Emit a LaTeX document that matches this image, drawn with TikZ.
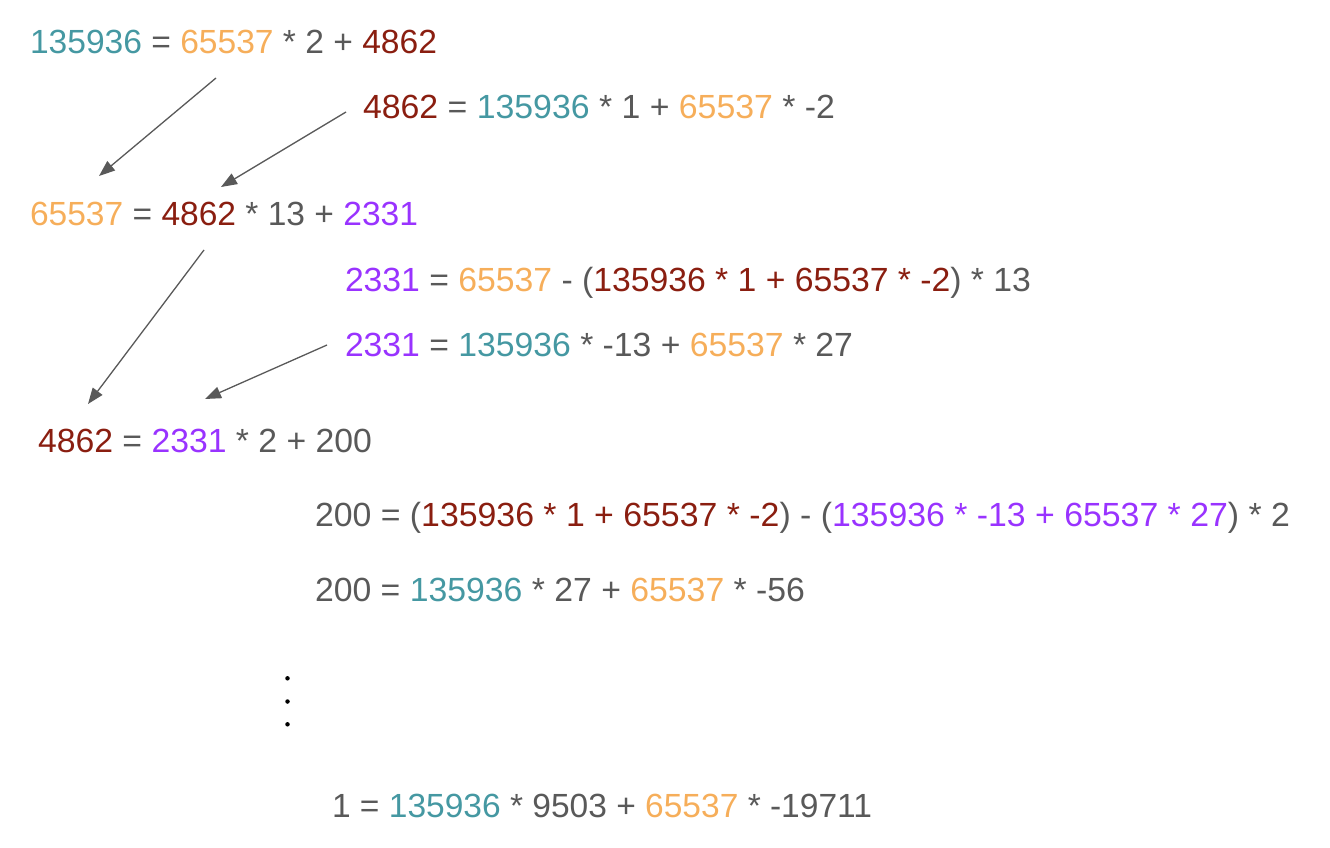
\documentclass[tikz,border=0pt]{standalone}
\usepackage{fontspec}
\setmainfont{Liberation Sans}
\usetikzlibrary{arrows.meta}
\definecolor{tl}{HTML}{4598A2}
\definecolor{og}{HTML}{F6AE5A}
\definecolor{dr}{HTML}{8A1E10}
\definecolor{pp}{HTML}{9933FF}
\definecolor{gr}{HTML}{595959}
\newcommand{\cT}[1]{\textcolor{tl}{#1}}
\newcommand{\cO}[1]{\textcolor{og}{#1}}
\newcommand{\cR}[1]{\textcolor{dr}{#1}}
\newcommand{\cP}[1]{\textcolor{pp}{#1}}
\newcommand{\fitw}[2]{\resizebox{#1pt}{\height}{#2}}
\tikzset{
  eq/.style={anchor=base west, inner sep=0pt, outer sep=0pt, text=gr, font=\fontsize{33.5}{40}\selectfont},
  arr/.style={draw=gr, line width=1.3pt, -{Triangle[length=16pt,width=12pt]}},
  dot/.style={circle, fill=black, inner sep=0pt, minimum size=4.5pt}
}
\begin{document}
\begin{tikzpicture}[x=1pt,y=-1pt]
\useasboundingbox (0,0) rectangle (1330,848);
\node[eq] (l1) at (30,54) {\fitw{407}{\cT{135936} = \cO{65537} * 2 + \cR{4862}}};
\node[eq] (l2) at (363,119) {\fitw{472}{\cR{4862} = \cT{135936} * 1 + \cO{65537} * -2}};
\node[eq] (l3) at (30,225) {\fitw{388}{\cO{65537} = \cR{4862} * 13 + \cP{2331}}};
\node[eq] (l4) at (345,291) {\fitw{686}{\cP{2331} = \cO{65537} - (\cR{135936 * 1 + 65537 * -2}) * 13}};
\node[eq] (l5) at (345,356) {\fitw{508}{\cP{2331} = \cT{135936} * -13 + \cO{65537} * 27}};
\node[eq] (l6) at (38,452) {\fitw{334}{\cR{4862} = \cP{2331} * 2 + 200}};
\node[eq] (l7) at (315,526) {\fitw{975}{200 = (\cR{135936 * 1 + 65537 * -2}) - (\cP{135936 * -13 + 65537 * 27}) * 2}};
\node[eq] (l8) at (315,601) {\fitw{490}{200 = \cT{135936} * 27 + \cO{65537} * -56}};
\node[eq] (l9) at (332,817) {\fitw{540}{1 = \cT{135936} * 9503 + \cO{65537} * -19711}};
\node[dot] (d1) at (287.5,678.3) {};
\node[dot] (d2) at (287.5,701.5) {};
\node[dot] (d3) at (287.5,724.3) {};
\coordinate (a1s) at (216,78);  \coordinate (a1e) at (99,176);
\coordinate (a2s) at (346,112); \coordinate (a2e) at (221,187);
\coordinate (a3s) at (204,250); \coordinate (a3e) at (88,404);
\coordinate (a4s) at (327,345); \coordinate (a4e) at (205,399);
\draw[arr] (a1s) -- (a1e);
\draw[arr] (a2s) -- (a2e);
\draw[arr] (a3s) -- (a3e);
\draw[arr] (a4s) -- (a4e);
\end{tikzpicture}
\end{document}
